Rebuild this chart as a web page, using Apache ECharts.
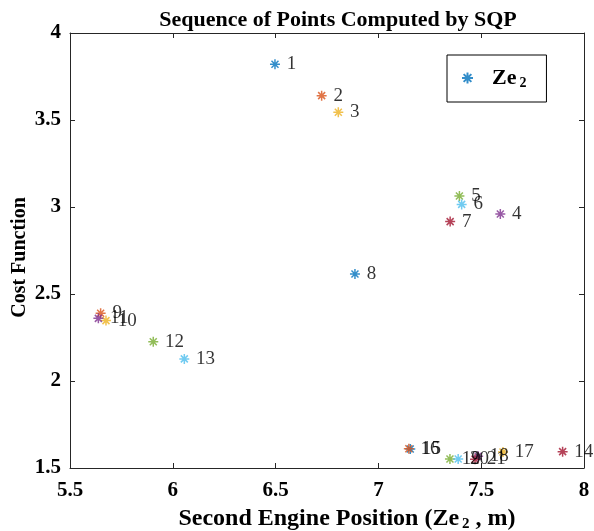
<!DOCTYPE html>
<html>
<head>
<meta charset="utf-8">
<script src="https://cdn.jsdelivr.net/npm/echarts@6/dist/echarts.min.js"></script>
<style>
  html, body { margin: 0; padding: 0; background: #fff; }
  #chart { width: 594px; height: 531px; }
</style>
</head>
<body>
<div id="chart"></div>
<script>
// SQP iterates: second engine position (m) and the cost at each step
const iterLabels = ['1','2','3','4','5','6','7','8','9','10','11','12','13','14','15','16','17','18','19','20','21'];
const enginePos = [6.497, 6.724, 6.805, 7.593, 7.394, 7.405, 7.349, 6.886, 5.649, 5.675, 5.638, 5.905, 6.056, 7.896, 7.155, 7.148, 7.606, 7.485, 7.348, 7.388, 7.470];
const costValues = [3.82, 3.64, 3.544, 2.96, 3.063, 3.015, 2.916, 2.615, 2.389, 2.347, 2.36, 2.226, 2.127, 1.594, 1.609, 1.611, 1.592, 1.568, 1.552, 1.552, 1.550];

const xTicks = [5.5, 6, 6.5, 7, 7.5, 8];
const yTicks = [1.5, 2, 2.5, 3, 3.5, 4];

// default MATLAB colour order, cycled per iterate
const palette = ['#0072BD', '#D95319', '#EDB120', '#7E2F8E', '#77AC30', '#4DBEEE', '#A2142F'];

const serif = '"Liberation Serif", "Times New Roman", serif';
const axisColor = '#262626';
const asterisk = 'path://M5,0L5,10M0,5L10,5M1.5,1.5L8.5,8.5M8.5,1.5L1.5,8.5';

const points = enginePos.map((x, i) => {
  const c = palette[i % palette.length];
  return {
    value: [x, costValues[i]],
    name: iterLabels[i],
    itemStyle: { color: c, borderColor: c }
  };
});

function baseAxis(extra) {
  return Object.assign({
    type: 'value',
    interval: 0.5,
    axisLine: { show: true, onZero: false, lineStyle: { color: axisColor, width: 1 } },
    axisTick: { show: true, inside: true, length: 5, lineStyle: { color: axisColor, width: 1 } },
    splitLine: { show: false }
  }, extra);
}

const chart = echarts.init(document.getElementById('chart'), null, { renderer: 'canvas' });
chart.setOption({
  animation: false,
  backgroundColor: '#ffffff',
  title: {
    text: 'Sequence of Points Computed by SQP',
    left: 333, top: 4, textAlign: 'center',
    textStyle: { fontFamily: serif, fontWeight: 'bold', fontSize: 22, color: '#000' }
  },
  grid: { left: 70, right: 10, top: 33, bottom: 63, containLabel: false, outerBoundsMode: 'none' },
  legend: {
    left: 447, top: 55,
    padding: [12, 20, 12, 14],
    borderColor: '#000', borderWidth: 1,
    itemWidth: 11, itemHeight: 11,
    data: ['Ze2'],
    formatter: () => '{sp|}{b|Ze}{s|2}',
    textStyle: {
      fontFamily: serif, color: '#000',
      rich: {
        sp: { width: 14 },
        b: { fontFamily: serif, fontWeight: 'bold', fontSize: 22, color: '#000' },
        s: { fontFamily: serif, fontWeight: 'bold', fontSize: 14, color: '#000', padding: [10, 0, 0, 3] }
      }
    }
  },
  xAxis: [
    baseAxis({
      min: xTicks[0], max: xTicks[xTicks.length - 1], position: 'bottom',
      name: '{t|Second Engine Position (Ze}{s|2}{t| , m)}',
      nameLocation: 'middle', nameGap: 38, nameMoveOverlap: false,
      nameTextStyle: {
        padding: [0, 0, 0, 40],
        rich: {
          t: { fontFamily: serif, fontWeight: 'bold', fontSize: 24, color: '#000' },
          s: { fontFamily: serif, fontWeight: 'bold', fontSize: 15, color: '#000', padding: [11, 0, 0, 3] }
        }
      },
      axisLabel: { margin: 12, fontFamily: serif, fontWeight: 'bold', fontSize: 21, color: '#000',
        formatter: v => String(v) }
    }),
    baseAxis({
      min: xTicks[0], max: xTicks[xTicks.length - 1], position: 'top',
      axisLabel: { show: false }
    })
  ],
  yAxis: [
    baseAxis({
      min: yTicks[0], max: yTicks[yTicks.length - 1], position: 'left',
      name: 'Cost Function', nameLocation: 'middle', nameGap: 40, nameRotate: 90,
      nameMoveOverlap: false,
      nameTextStyle: { fontFamily: serif, fontWeight: 'bold', fontSize: 20, color: '#000',
        padding: [0, 14, 0, 0] },
      axisLabel: { margin: 9, fontFamily: serif, fontWeight: 'bold', fontSize: 21, color: '#000',
        formatter: v => String(v) }
    }),
    baseAxis({
      min: yTicks[0], max: yTicks[yTicks.length - 1], position: 'right',
      axisLabel: { show: false }
    })
  ],
  series: [{
    name: 'Ze2',
    type: 'scatter',
    symbol: asterisk,
    symbolSize: 10,
    itemStyle: { color: palette[0], borderColor: palette[0], borderWidth: 1.5 },
    label: {
      show: true, position: 'right', distance: 6, offset: [0, -8],
      formatter: p => p.name,
      fontFamily: serif, fontSize: 19, color: '#000'
    },
    labelLayout: { hideOverlap: false },
    data: points
  }]
});
</script>
</body>
</html>
